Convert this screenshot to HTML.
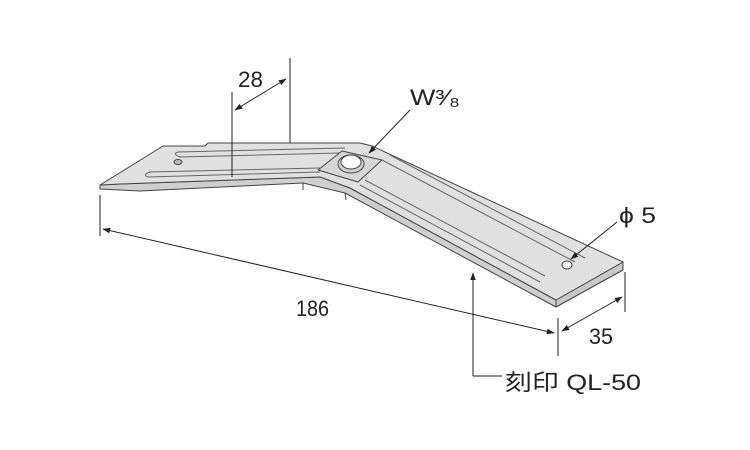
<!DOCTYPE html>
<html><head><meta charset="utf-8"><style>
html,body{margin:0;padding:0;background:#fff;}
svg{display:block}
text{font-family:"Liberation Sans","Noto Sans CJK JP",sans-serif;fill:#222;}
</style></head><body>
<svg width="750" height="450" viewBox="0 0 750 450" xmlns="http://www.w3.org/2000/svg">
<defs>
<marker id="a" viewBox="0 0 10 10" refX="9" refY="5" markerWidth="8" markerHeight="8" orient="auto-start-reverse"><path d="M0,1.5 L10,5 L0,8.5 Z" fill="#222"/></marker>
</defs>
<g stroke="#444" stroke-width="1" stroke-linejoin="round">
<polygon points="100,185 100,189 140,191 303,183 345,193 556,307 556,300 350,188 320,177 120,184" fill="#cfcfcf"/>
<polygon points="556,300 623,262 623,270 556,307" fill="#c8c8c8"/>
<polygon points="100,185 163,146 205,146 208,143 360,143 372,146 623,262 556,300 350,188 320,177 120,184" fill="#e0e0e0"/>
<path d="M178,152 L345,148 M148,177 L320,172 M148,177 Q142,175 150,172 L320,168" fill="none" stroke="#666"/>
<path d="M178,152 Q172,154 180,157 L340,153" fill="none" stroke="#666"/>
<path d="M390,155 L585,258 M382,160 L575,262 M365,180 L545,276 M360,185 L540,282" fill="none" stroke="#666"/>
<polygon points="318,170 342,151 382,160 358,182" fill="#d6d6d6"/>
<ellipse cx="351" cy="164" rx="13" ry="9" fill="#d0d0d0"/>
<ellipse cx="351" cy="162" rx="10" ry="7" fill="#fafafa"/>
<ellipse cx="178" cy="162" rx="4" ry="2.5" fill="#bbb"/>
<ellipse cx="567" cy="265" rx="5" ry="4" fill="#fff"/>
<path d="M303,183 L303,190 M345,193 L346,200" fill="none"/>
</g>
<g stroke="#222" stroke-width="1" fill="none">
<path d="M232,92 V177 M290,58 V143"/>
<path d="M235,110 L286,79" marker-start="url(#a)" marker-end="url(#a)"/>
<path d="M410,110 L369,153" marker-end="url(#a)"/>
<path d="M100,195 V236 M558,318 V356 M625,272 V312"/>
<path d="M103,229 L554,333" marker-start="url(#a)" marker-end="url(#a)"/>
<path d="M562,331 L622,297" marker-start="url(#a)" marker-end="url(#a)"/>
<path d="M617,222 L571,259" marker-end="url(#a)"/>
<path d="M473,376 H502 M473,376 V273" marker-end="url(#a)"/>
</g>
<g font-size="22">
<text x="238" y="87" textLength="25" lengthAdjust="spacingAndGlyphs">28</text>
<text x="410" y="105" textLength="50" lengthAdjust="spacingAndGlyphs">W³⁄₈</text>
<text x="296" y="316" textLength="33" lengthAdjust="spacingAndGlyphs">186</text>
<text x="619" y="223" textLength="37" lengthAdjust="spacingAndGlyphs">ϕ 5</text>
<text x="589" y="344" textLength="24" lengthAdjust="spacingAndGlyphs">35</text>
<text x="505" y="390" textLength="136" lengthAdjust="spacingAndGlyphs">刻印 QL-50</text>
</g>
</svg>
</body></html>
